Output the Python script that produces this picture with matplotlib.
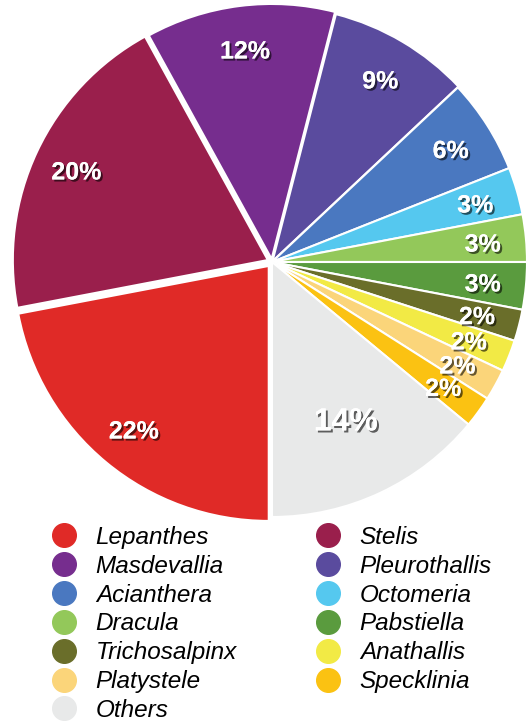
import numpy as np
import matplotlib
matplotlib.use('Agg')
import matplotlib.pyplot as plt
import matplotlib.patheffects as pe
from matplotlib.lines import Line2D

# Datos del gráfico (orden horario desde abajo)
generos = ['Lepanthes', 'Stelis', 'Masdevallia', 'Pleurothallis', 'Acianthera',
           'Octomeria', 'Dracula', 'Pabstiella', 'Trichosalpinx', 'Anathallis',
           'Platystele', 'Specklinia', 'Others']
porcentajes = [22, 20, 12, 9, 6, 3, 3, 3, 2, 2, 2, 2, 14]
colores = ['#E02A27', '#9A1F4C', '#762D8E', '#5A4B9E', '#4A78C0',
           '#55C8EF', '#93C85A', '#5A9B3E', '#6A6E2A', '#F2EA45',
           '#FBD57A', '#FBC212', '#E8E9E9']
separacion = [0.02, 0.018, 0.012, 0.004, 0, 0, 0, 0, 0, 0, 0, 0, 0]

# Orden de la leyenda (columna izquierda y luego derecha)
orden_leyenda = ['Lepanthes', 'Masdevallia', 'Acianthera', 'Dracula', 'Trichosalpinx',
                 'Platystele', 'Others',
                 'Stelis', 'Pleurothallis', 'Octomeria', 'Pabstiella', 'Anathallis',
                 'Specklinia']

W, H = 531, 723
fig = plt.figure(figsize=(W / 100, H / 100), dpi=100)

# Ejes del pastel colocados en pixeles
cx, cy, R = 272, 262, 255
ax = fig.add_axes([(cx - R) / W, (H - cy - R) / H, 2 * R / W, 2 * R / H])

sombra = [pe.withSimplePatchShadow(offset=(1.5, -1.5), shadow_rgbFace='black', alpha=0.6),
          pe.Normal()]

wedges, textos, autotextos = ax.pie(
    porcentajes, colors=colores, startangle=-90, counterclock=False,
    explode=separacion, autopct='%.0f%%', pctdistance=0.83,
    wedgeprops=dict(edgecolor='white', linewidth=1.5),
    textprops=dict(color='white', fontweight='bold', family='Liberation Sans', fontsize=18))

for w in wedges:
    w.set_clip_on(False)
for t in autotextos:
    t.set_path_effects(sombra)
    t.set_clip_on(False)
    t.set_va('center_baseline')

# La etiqueta de "Others" va mas adentro y mas grande
w = wedges[-1]
ang = np.deg2rad((w.theta1 + w.theta2) / 2)
autotextos[-1].set_position((0.68 * np.cos(ang), 0.68 * np.sin(ang)))
autotextos[-1].set_fontsize(23)

ax.set_xlim(-1, 1)
ax.set_ylim(-1, 1)
ax.set_aspect('equal')
ax.axis('off')

# Leyenda
color_de = dict(zip(generos, colores))
manijas = [Line2D([], [], marker='o', linestyle='', markersize=17,
                  markerfacecolor=color_de[g], markeredgecolor=color_de[g], label=g)
           for g in orden_leyenda]
fig.legend(handles=manijas, loc='upper left', bbox_to_anchor=(52 / W, 1 - 526 / H),
           ncol=2, frameon=False, borderpad=0, borderaxespad=0,
           handlelength=1.0, handletextpad=0.8, columnspacing=3.25, labelspacing=0.24,
           prop=dict(family='Liberation Sans', style='italic', size=17.5))

fig.savefig('out.png', dpi=100)
